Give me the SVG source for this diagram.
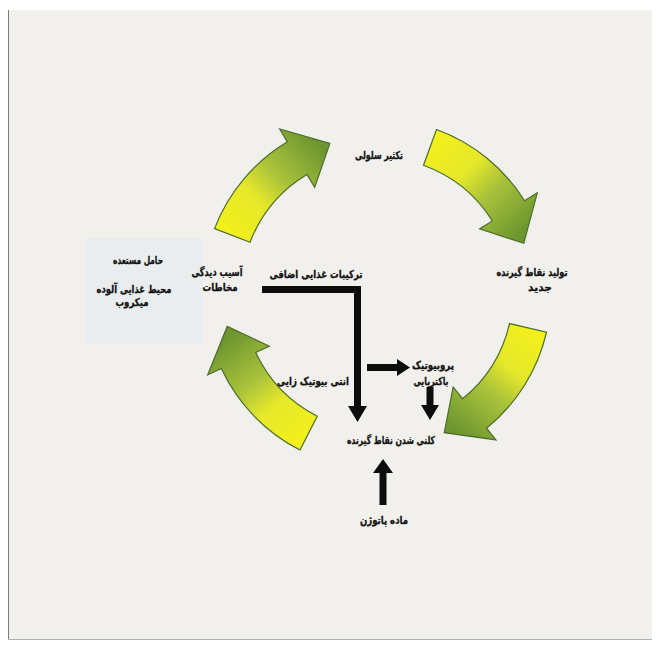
<svg xmlns="http://www.w3.org/2000/svg" width="658" height="646" viewBox="0 0 658 646">
  <defs>
    <linearGradient id="gArrow" gradientUnits="userSpaceOnUse" x1="160" y1="0" x2="105" y2="115">
      <stop offset="0" stop-color="#f3f01c"/>
      <stop offset="0.35" stop-color="#e6e82a"/>
      <stop offset="0.6" stop-color="#a9c23a"/>
      <stop offset="1" stop-color="#6d9630"/>
    </linearGradient>
    <path id="cycArrow" d="M174,0 A174,174 0 0 1 137.12,107.13 L148.93,116.37 L96.91,120.96 L95.35,74.5 L107.18,83.73 A136,136 0 0 0 136,0 Z"/>
    <style>
      .lbl { font-family: "DejaVu Sans", "Noto Sans", sans-serif; font-weight: bold; font-size: 11px; fill: #111111; text-anchor: middle; stroke: #111111; stroke-width: 0.3; }
      .cyc { fill: url(#gArrow); stroke: #4c6e2a; stroke-width: 1.2; }
      .blk { fill: #0d0d0d; }
    </style>
  </defs>
  <rect x="0" y="0" width="658" height="646" fill="#ffffff"/>
  <rect x="8" y="10" width="644" height="630" fill="#f1f0ed"/>
  <line x1="8.5" y1="10" x2="8.5" y2="640" stroke="#7a7a7a" stroke-width="1"/>
  <line x1="8" y1="639.5" x2="652" y2="639.5" stroke="#b0b0b0" stroke-width="1"/>
  <rect x="85" y="238" width="118" height="106" fill="#eaedf0"/>

  <g id="connectors">
    <use href="#cycArrow" class="cyc" transform="translate(377,291) rotate(201)"/>
    <use href="#cycArrow" class="cyc" transform="translate(377,293) rotate(290)"/>
    <use href="#cycArrow" class="cyc" transform="translate(377,293) rotate(13)"/>
    <use href="#cycArrow" class="cyc" transform="translate(379,295) rotate(117)"/>
    <path class="blk" d="M262,286 H361 V406 H367 L357.5,422 L348,406 H354 V293 H262 Z"/>
    <path class="blk" d="M367,364 H397 V359 L410,367.5 L397,376 V371 H367 Z"/>
    <path class="blk" d="M426.5,387 H433.5 V405 H439 L430,420 L421,405 H426.5 Z"/>
    <path class="blk" d="M379.5,505 H386.5 V473 H393 L383,459 L373,473 H379.5 Z"/>
  </g>

  <g id="n-takthir"><text class="lbl" x="379" y="159" textLength="48" lengthAdjust="spacingAndGlyphs">تکثیر سلولی</text></g>
  <g id="n-tolid"><text class="lbl" x="532" y="276" textLength="71" lengthAdjust="spacingAndGlyphs">تولید نقاط گیرنده</text><text class="lbl" x="540" y="291" textLength="24" lengthAdjust="spacingAndGlyphs">جدید</text></g>
  <g id="n-asib"><text class="lbl" x="217" y="276" textLength="51" lengthAdjust="spacingAndGlyphs">آسیب دیدگی</text><text class="lbl" x="220" y="291" textLength="35" lengthAdjust="spacingAndGlyphs">مخاطات</text></g>
  <g id="n-hamel"><text class="lbl" x="138" y="264" textLength="50" lengthAdjust="spacingAndGlyphs">حامل مستعده</text><text class="lbl" x="134" y="293" textLength="75" lengthAdjust="spacingAndGlyphs">محیط غذایی آلوده</text><text class="lbl" x="132" y="306" textLength="33" lengthAdjust="spacingAndGlyphs">میکروب</text></g>
  <g id="n-tarkibat"><text class="lbl" x="316" y="278" textLength="93" lengthAdjust="spacingAndGlyphs">ترکیبات غذایی اضافی</text></g>
  <g id="n-anti"><text class="lbl" x="313" y="385" textLength="72" lengthAdjust="spacingAndGlyphs">انتی بیوتیک زایی</text></g>
  <g id="n-probiotic"><text class="lbl" x="433" y="369" textLength="42" lengthAdjust="spacingAndGlyphs">پروبیوتیک</text><text class="lbl" x="431" y="385" textLength="35" lengthAdjust="spacingAndGlyphs">باکتریایی</text></g>
  <g id="n-koloni"><text class="lbl" x="391" y="444" textLength="88" lengthAdjust="spacingAndGlyphs">کلنی شدن نقاط گیرنده</text></g>
  <g id="n-pathogen"><text class="lbl" x="384" y="524" textLength="48" lengthAdjust="spacingAndGlyphs">ماده پاتوژن</text></g>
</svg>
